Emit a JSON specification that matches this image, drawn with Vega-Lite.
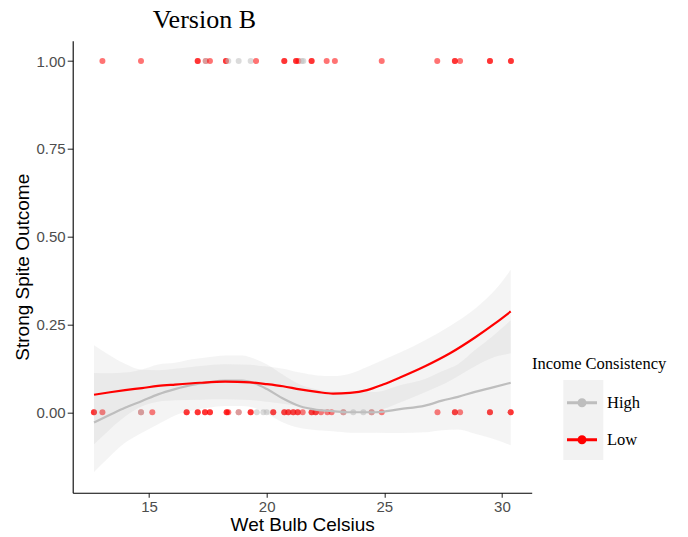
{
  "$schema": "https://vega.github.io/schema/vega-lite/v6.json",
  "width": 459,
  "height": 452,
  "autosize": {"type": "none"},
  "padding": {"left": 72.7, "top": 40.7, "right": 156.3, "bottom": 44.3},
  "background": "white",
  "title": {"text": "Version B", "anchor": "start", "frame": "group", "dx": 80, "offset": 7.5, "font": "Liberation Serif", "fontSize": 26, "fontWeight": "normal", "color": "black"},
  "config": {
    "view": {"stroke": null},
    "axis": {"grid": false, "domainColor": "black", "domainWidth": 1.1, "tickColor": "#333333", "tickWidth": 1.1, "labelColor": "#4D4D4D", "labelFont": "Liberation Sans", "labelFontSize": 15, "titleFont": "Liberation Sans", "titleFontSize": 19, "titleFontWeight": "normal", "titleColor": "black", "labelPadding": 2},
    "axisX": {"tickSize": 4.5, "titlePadding": 1},
    "axisY": {"tickSize": 5.5, "titlePadding": 4}
  },
  "datasets": {
    "pts": [
      {"g": "Low", "x": 13.02, "y": 1}, {"g": "Low", "x": 14.66, "y": 1},
      {"g": "Low", "x": 17.07, "y": 1}, {"g": "Low", "x": 17.07, "y": 1},
      {"g": "Low", "x": 17.41, "y": 1}, {"g": "High", "x": 17.41, "y": 1},
      {"g": "Low", "x": 17.59, "y": 1},
      {"g": "Low", "x": 18.27, "y": 1}, {"g": "Low", "x": 18.27, "y": 1},
      {"g": "High", "x": 18.37, "y": 1}, {"g": "High", "x": 18.81, "y": 1}, {"g": "High", "x": 19.32, "y": 1},
      {"g": "Low", "x": 19.55, "y": 1},
      {"g": "Low", "x": 20.75, "y": 1}, {"g": "Low", "x": 20.75, "y": 1},
      {"g": "Low", "x": 21.25, "y": 1}, {"g": "Low", "x": 21.25, "y": 1},
      {"g": "Low", "x": 21.35, "y": 1},
      {"g": "High", "x": 21.49, "y": 1}, {"g": "High", "x": 21.56, "y": 1},
      {"g": "Low", "x": 21.91, "y": 1}, {"g": "Low", "x": 21.91, "y": 1},
      {"g": "Low", "x": 22.55, "y": 1}, {"g": "Low", "x": 22.9, "y": 1},
      {"g": "Low", "x": 24.89, "y": 1}, {"g": "Low", "x": 27.25, "y": 1},
      {"g": "Low", "x": 28.0, "y": 1}, {"g": "Low", "x": 28.0, "y": 1},
      {"g": "Low", "x": 28.22, "y": 1},
      {"g": "Low", "x": 29.49, "y": 1}, {"g": "Low", "x": 29.49, "y": 1},
      {"g": "Low", "x": 30.38, "y": 1}, {"g": "Low", "x": 30.38, "y": 1},
      {"g": "Low", "x": 12.66, "y": 0}, {"g": "Low", "x": 12.66, "y": 0},
      {"g": "Low", "x": 13.02, "y": 0},
      {"g": "Low", "x": 14.66, "y": 0}, {"g": "High", "x": 14.66, "y": 0},
      {"g": "Low", "x": 15.14, "y": 0},
      {"g": "Low", "x": 16.6, "y": 0}, {"g": "Low", "x": 16.6, "y": 0},
      {"g": "Low", "x": 17.07, "y": 0}, {"g": "Low", "x": 17.07, "y": 0},
      {"g": "Low", "x": 17.38, "y": 0}, {"g": "Low", "x": 17.38, "y": 0},
      {"g": "Low", "x": 17.59, "y": 0}, {"g": "Low", "x": 17.59, "y": 0},
      {"g": "Low", "x": 18.3, "y": 0}, {"g": "Low", "x": 18.3, "y": 0},
      {"g": "Low", "x": 18.37, "y": 0},
      {"g": "Low", "x": 18.81, "y": 0}, {"g": "High", "x": 18.81, "y": 0},
      {"g": "Low", "x": 19.32, "y": 0}, {"g": "Low", "x": 19.32, "y": 0},
      {"g": "High", "x": 19.58, "y": 0}, {"g": "High", "x": 19.86, "y": 0}, {"g": "High", "x": 20.0, "y": 0},
      {"g": "Low", "x": 20.28, "y": 0}, {"g": "Low", "x": 20.28, "y": 0},
      {"g": "Low", "x": 20.75, "y": 0}, {"g": "Low", "x": 20.75, "y": 0},
      {"g": "Low", "x": 20.92, "y": 0}, {"g": "Low", "x": 20.92, "y": 0},
      {"g": "Low", "x": 21.13, "y": 0}, {"g": "Low", "x": 21.13, "y": 0},
      {"g": "Low", "x": 21.32, "y": 0}, {"g": "Low", "x": 21.32, "y": 0},
      {"g": "Low", "x": 21.53, "y": 0},
      {"g": "Low", "x": 21.91, "y": 0}, {"g": "Low", "x": 21.91, "y": 0},
      {"g": "Low", "x": 22.08, "y": 0}, {"g": "Low", "x": 22.08, "y": 0},
      {"g": "Low", "x": 22.31, "y": 0}, {"g": "Low", "x": 22.58, "y": 0}, {"g": "Low", "x": 22.76, "y": 0},
      {"g": "Low", "x": 23.26, "y": 0}, {"g": "High", "x": 23.26, "y": 0},
      {"g": "High", "x": 23.68, "y": 0}, {"g": "High", "x": 24.11, "y": 0},
      {"g": "Low", "x": 24.46, "y": 0}, {"g": "High", "x": 24.46, "y": 0},
      {"g": "Low", "x": 24.89, "y": 0}, {"g": "Low", "x": 27.26, "y": 0},
      {"g": "Low", "x": 28.0, "y": 0}, {"g": "Low", "x": 28.0, "y": 0},
      {"g": "Low", "x": 28.22, "y": 0},
      {"g": "Low", "x": 29.49, "y": 0}, {"g": "Low", "x": 29.49, "y": 0},
      {"g": "Low", "x": 30.37, "y": 0}, {"g": "Low", "x": 30.37, "y": 0}
    ],
    "fits": [
      {"g": "High", "x": 12.663, "fit": -0.029, "lo": -0.170, "hi": 0.112},
      {"g": "High", "x": 13.343, "fit": -0.007, "lo": -0.125, "hi": 0.111},
      {"g": "High", "x": 13.98, "fit": 0.013, "lo": -0.087, "hi": 0.113},
      {"g": "High", "x": 14.703, "fit": 0.032, "lo": -0.058, "hi": 0.122},
      {"g": "High", "x": 15.382, "fit": 0.051, "lo": -0.034, "hi": 0.136},
      {"g": "High", "x": 16.105, "fit": 0.066, "lo": -0.009, "hi": 0.141},
      {"g": "High", "x": 16.827, "fit": 0.078, "lo": 0.005, "hi": 0.151},
      {"g": "High", "x": 17.507, "fit": 0.085, "lo": 0.013, "hi": 0.157},
      {"g": "High", "x": 18.23, "fit": 0.090, "lo": 0.018, "hi": 0.162},
      {"g": "High", "x": 18.952, "fit": 0.090, "lo": 0.018, "hi": 0.162},
      {"g": "High", "x": 19.505, "fit": 0.082, "lo": 0.012, "hi": 0.152},
      {"g": "High", "x": 20.015, "fit": 0.066, "lo": -0.004, "hi": 0.136},
      {"g": "High", "x": 20.695, "fit": 0.039, "lo": -0.029, "hi": 0.107},
      {"g": "High", "x": 21.417, "fit": 0.017, "lo": -0.045, "hi": 0.079},
      {"g": "High", "x": 22.14, "fit": 0.007, "lo": -0.051, "hi": 0.065},
      {"g": "High", "x": 22.82, "fit": 0.003, "lo": -0.054, "hi": 0.060},
      {"g": "High", "x": 23.542, "fit": 0.000, "lo": -0.058, "hi": 0.058},
      {"g": "High", "x": 24.605, "fit": 0.000, "lo": -0.058, "hi": 0.058},
      {"g": "High", "x": 25.667, "fit": 0.009, "lo": -0.059, "hi": 0.077},
      {"g": "High", "x": 26.73, "fit": 0.019, "lo": -0.057, "hi": 0.095},
      {"g": "High", "x": 27.452, "fit": 0.033, "lo": -0.051, "hi": 0.117},
      {"g": "High", "x": 28.132, "fit": 0.044, "lo": -0.049, "hi": 0.137},
      {"g": "High", "x": 28.855, "fit": 0.058, "lo": -0.061, "hi": 0.177},
      {"g": "High", "x": 29.577, "fit": 0.070, "lo": -0.075, "hi": 0.215},
      {"g": "High", "x": 30.372, "fit": 0.084, "lo": -0.094, "hi": 0.262},
      {"g": "Low", "x": 12.663, "fit": 0.050, "lo": -0.091, "hi": 0.191},
      {"g": "Low", "x": 13.343, "fit": 0.057, "lo": -0.048, "hi": 0.162},
      {"g": "Low", "x": 13.98, "fit": 0.063, "lo": -0.012, "hi": 0.138},
      {"g": "Low", "x": 14.703, "fit": 0.069, "lo": 0.017, "hi": 0.121},
      {"g": "Low", "x": 15.382, "fit": 0.075, "lo": 0.030, "hi": 0.120},
      {"g": "Low", "x": 16.105, "fit": 0.079, "lo": 0.034, "hi": 0.124},
      {"g": "Low", "x": 17.167, "fit": 0.084, "lo": 0.036, "hi": 0.132},
      {"g": "Low", "x": 18.23, "fit": 0.087, "lo": 0.037, "hi": 0.137},
      {"g": "Low", "x": 19.292, "fit": 0.085, "lo": 0.035, "hi": 0.135},
      {"g": "Low", "x": 20.015, "fit": 0.080, "lo": 0.030, "hi": 0.130},
      {"g": "Low", "x": 20.695, "fit": 0.074, "lo": 0.024, "hi": 0.124},
      {"g": "Low", "x": 21.417, "fit": 0.065, "lo": 0.017, "hi": 0.113},
      {"g": "Low", "x": 22.14, "fit": 0.058, "lo": 0.011, "hi": 0.105},
      {"g": "Low", "x": 22.82, "fit": 0.053, "lo": 0.003, "hi": 0.103},
      {"g": "Low", "x": 23.542, "fit": 0.055, "lo": 0.000, "hi": 0.110},
      {"g": "Low", "x": 24.265, "fit": 0.063, "lo": -0.003, "hi": 0.129},
      {"g": "Low", "x": 24.945, "fit": 0.079, "lo": 0.009, "hi": 0.149},
      {"g": "Low", "x": 25.667, "fit": 0.099, "lo": 0.028, "hi": 0.170},
      {"g": "Low", "x": 26.73, "fit": 0.131, "lo": 0.057, "hi": 0.205},
      {"g": "Low", "x": 27.792, "fit": 0.168, "lo": 0.090, "hi": 0.246},
      {"g": "Low", "x": 28.855, "fit": 0.213, "lo": 0.131, "hi": 0.295},
      {"g": "Low", "x": 29.705, "fit": 0.253, "lo": 0.158, "hi": 0.348},
      {"g": "Low", "x": 30.372, "fit": 0.287, "lo": 0.168, "hi": 0.406}
    ]
  },
  "encoding": {
    "x": {"field": "x", "type": "quantitative", "title": "Wet Bulb Celsius",
      "scale": {"domain": [11.757, 31.264], "nice": false, "zero": false},
      "axis": {"values": [15, 20, 25, 30], "format": "d"}}
  },
  "layer": [
    {
      "data": {"name": "pts"},
      "mark": {"type": "point", "filled": true, "opacity": 0, "size": 1},
      "encoding": {
        "y": {"field": "y", "type": "quantitative", "title": "Strong Spite Outcome",
          "scale": {"domain": [-0.229, 1.058], "nice": false, "zero": false},
          "axis": {"values": [0, 0.25, 0.5, 0.75, 1], "format": ".2f"}},
        "fill": {"field": "y", "type": "nominal",
          "scale": {"range": ["#F2F2F2", "#F2F2F2"]},
          "legend": {"orient": "none", "legendX": 490.6, "legendY": 339.3, "title": null,
            "symbolType": "square", "symbolSize": 1600, "symbolOpacity": 1, "symbolStrokeWidth": 0,
            "labelOpacity": 0, "labelFontSize": 1, "rowPadding": 0, "padding": 0, "symbolOffset": 0}}
      }
    },
    {
      "data": {"name": "pts"},
      "mark": {"type": "point", "filled": true, "opacity": 0.55, "size": 36},
      "encoding": {
        "y": {"field": "y", "type": "quantitative", "title": "Strong Spite Outcome",
          "scale": {"domain": [-0.229, 1.058], "nice": false, "zero": false},
          "axis": {"values": [0, 0.25, 0.5, 0.75, 1], "format": ".2f"}},
        "color": {"field": "g", "type": "nominal",
          "scale": {"domain": ["High", "Low"], "range": ["#BEBEBE", "#FF0000"]},
          "legend": {"orient": "none", "legendX": 459.3, "legendY": 315.5, "title": "Income Consistency",
            "titleFont": "Liberation Serif", "titleFontSize": 16.5, "titleFontWeight": "normal", "titleColor": "black", "titlePadding": 15,
            "labelFont": "Liberation Serif", "labelFontSize": 16.5, "labelColor": "black", "labelOffset": 10,
            "symbolType": "M-1,-0.1H1V0.1H-1ZM0.3,0A0.3,0.3,0,1,1,-0.3,0A0.3,0.3,0,1,1,0.3,0Z",
            "symbolSize": 900, "symbolOpacity": 1, "symbolStrokeWidth": 0, "symbolOffset": 35, "rowPadding": 13, "padding": 0}}
      }
    },
    {
      "data": {"name": "fits"},
      "mark": {"type": "area", "interpolate": "monotone", "fill": "#999999", "opacity": 0.11},
      "encoding": {
        "y": {"field": "lo", "type": "quantitative", "title": "Strong Spite Outcome",
          "scale": {"domain": [-0.229, 1.058], "nice": false, "zero": false}},
        "y2": {"field": "hi"},
        "detail": {"field": "g", "type": "nominal"}
      }
    },
    {
      "data": {"name": "fits"},
      "mark": {"type": "line", "interpolate": "monotone", "strokeWidth": 2.2},
      "encoding": {
        "y": {"field": "fit", "type": "quantitative", "title": "Strong Spite Outcome",
          "scale": {"domain": [-0.229, 1.058], "nice": false, "zero": false}},
        "stroke": {"field": "g", "type": "nominal",
          "scale": {"domain": ["High", "Low"], "range": ["#BEBEBE", "#FF0000"]},
          "legend": null}
      }
    }
  ]
}
